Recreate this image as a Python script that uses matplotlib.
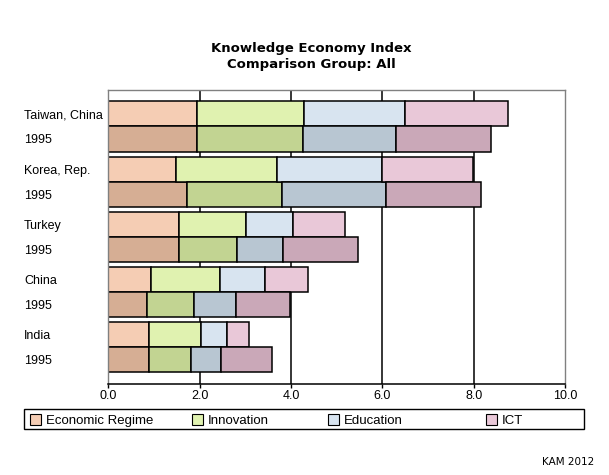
import matplotlib
matplotlib.use("Agg")
import matplotlib.pyplot as plt
from matplotlib.patches import Rectangle
import numpy as np

countries = ["Taiwan, China", "Korea, Rep.", "Turkey", "China", "India"]
year_label = "1995"
components = ["Economic Regime", "Innovation", "Education", "ICT"]

econ_recent = [1.95, 1.49, 1.55, 0.94, 0.90]
innov_recent = [2.34, 2.21, 1.47, 1.51, 1.12]
educ_recent = [2.21, 2.28, 1.03, 0.98, 0.57]
ict_recent = [2.25, 2.01, 1.12, 0.94, 0.48]

econ_1995 = [1.95, 1.73, 1.55, 0.85, 0.90]
innov_1995 = [2.30, 2.06, 1.27, 1.03, 0.92]
educ_1995 = [2.04, 2.28, 1.01, 0.92, 0.64]
ict_1995 = [2.08, 2.08, 1.64, 1.18, 1.12]

xticks = [0, 2, 4, 6, 8, 10]
xticklabels = ["0.0", "2.0", "4.0", "6.0", "8.0", "10.0"]

colors_recent = ["#F5CDB4", "#E0F2B0", "#D8E4F0", "#E9C8D8"]
colors_1995 = ["#D6AE94", "#C2D492", "#B8C6D2", "#CAA8B8"]

W, H = 609, 475
fig = plt.figure(figsize=(W / 100, H / 100), dpi=100)
fig.patch.set_facecolor("white")

left_px, right_px, top_px, bot_px = 108.3, 565.3, 89.7, 384.0
ax = fig.add_axes([left_px / W, 1 - bot_px / H, (right_px - left_px) / W, (bot_px - top_px) / H])

unit = 55.0
bh = 25.0 / unit
n = len(countries)
ypos = np.arange(n)
y_recent = ypos - bh / 2
y_old = ypos + bh / 2

recent = [econ_recent, innov_recent, educ_recent, ict_recent]
old = [econ_1995, innov_1995, educ_1995, ict_1995]

ax.set_axisbelow(True)
for x in xticks[1:-1]:
    ax.axvline(x, color="black", lw=1.1, zorder=0)

left_r = np.zeros(n)
left_o = np.zeros(n)
for k in range(4):
    ax.barh(y_recent, recent[k], left=left_r, height=bh, color=colors_recent[k],
            edgecolor="black", linewidth=1.1, zorder=2)
    ax.barh(y_old, old[k], left=left_o, height=bh, color=colors_1995[k],
            edgecolor="black", linewidth=1.1, zorder=2)
    left_r += np.array(recent[k])
    left_o += np.array(old[k])

ax.set_xlim(0, 10)
margin = 11.6 / unit
ax.set_ylim(n - 1 + bh + margin, -bh - margin)

ax.set_xticks(xticks)
ax.set_xticklabels(xticklabels, fontsize=9, family="Liberation Sans")
ax.tick_params(axis="x", direction="out", length=3, width=1, color="black", pad=1.5)

ylabs_pos = []
ylabs = []
for i, c in enumerate(countries):
    ylabs_pos += [y_recent[i], y_old[i]]
    ylabs += [c, year_label]
ax.set_yticks(ylabs_pos)
ax.set_yticklabels(ylabs, fontsize=9, family="Liberation Sans", ha="left",
                   va="center_baseline")
ax.tick_params(axis="y", length=0, pad=(left_px - 24) * 72 / 100)

for s in ["top", "right", "left"]:
    ax.spines[s].set_color("#808080")
    ax.spines[s].set_linewidth(1)
ax.spines["bottom"].set_color("black")
ax.spines["bottom"].set_linewidth(1.1)

fig.text(311 / W, 1 - 56.5 / H, "Knowledge Economy Index\nComparison Group: All",
         ha="center", va="center", fontsize=9.5, fontweight="bold",
         family="DejaVu Sans", linespacing=1.25)

# legend
lx0, lx1, ly0, ly1 = 24, 584, 409, 429
fig.patches.append(Rectangle((lx0 / W, 1 - ly1 / H), (lx1 - lx0) / W, (ly1 - ly0) / H,
                             transform=fig.transFigure, facecolor="white",
                             edgecolor="black", linewidth=1))
sq_x = [30, 192, 328, 486]
for k in range(4):
    fig.patches.append(Rectangle((sq_x[k] / W, 1 - 425 / H), 11 / W, 11 / H,
                                 transform=fig.transFigure, facecolor=colors_recent[k],
                                 edgecolor="black", linewidth=0.8))
    fig.text((sq_x[k] + 16) / W, 1 - 419.5 / H, components[k], ha="left",
             va="center_baseline", fontsize=9.5, family="Liberation Sans")

fig.text(594 / W, 1 - 461.7 / H, "KAM 2012", ha="right", va="center",
         fontsize=7.5, family="DejaVu Sans")

fig.savefig("out.png", dpi=100)
